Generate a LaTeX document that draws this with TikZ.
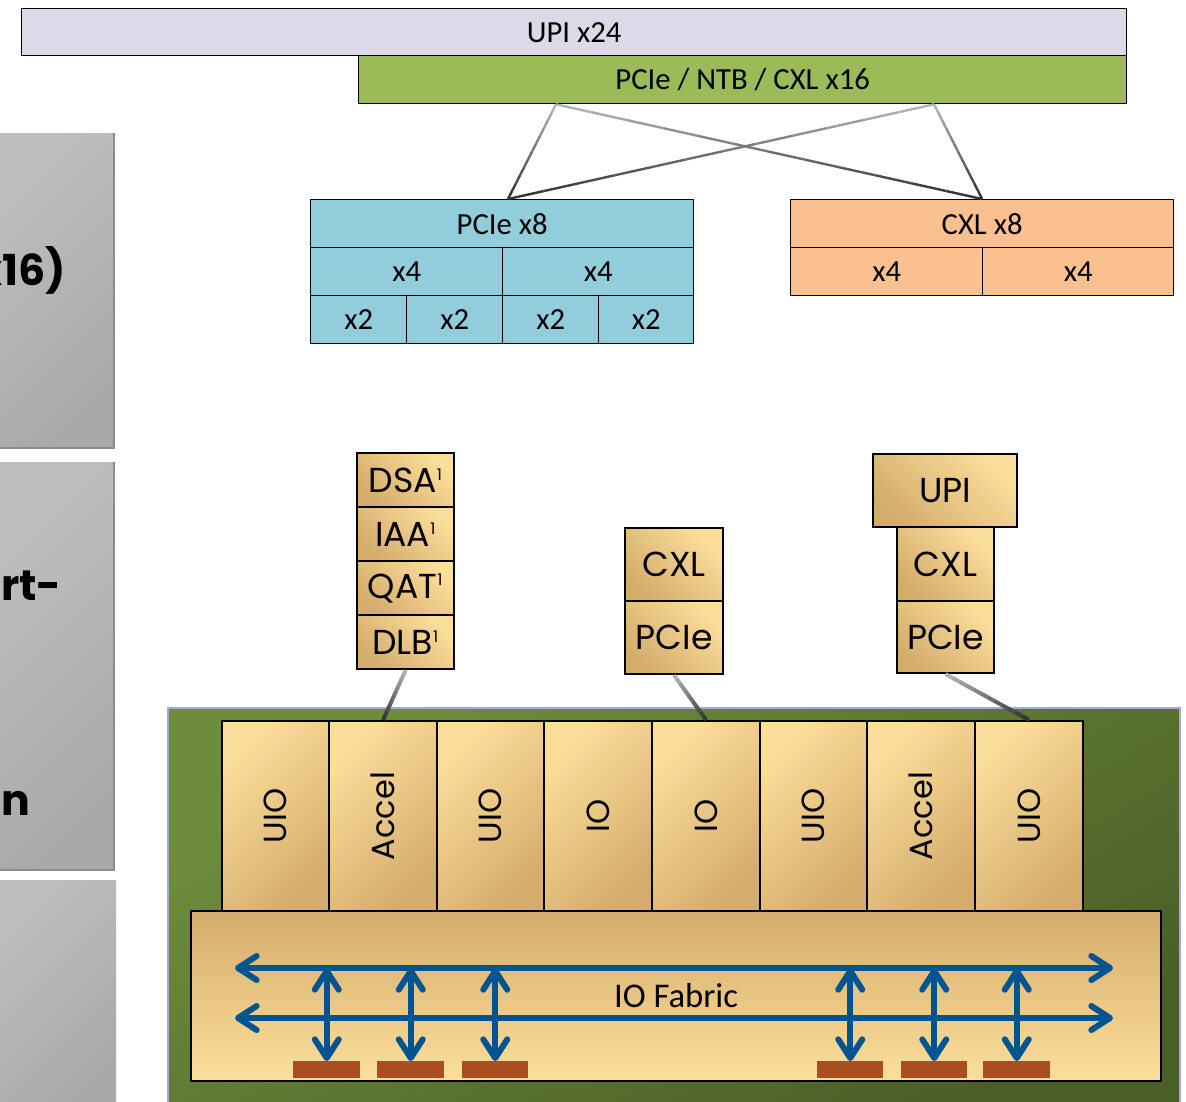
\documentclass[tikz,border=0pt]{standalone}
\usepackage{fontspec}
\usepackage{graphicx}
\setmainfont{Carlito}
\newfontfamily\geo{Poppins}
\usetikzlibrary{arrows.meta,calc}
\definecolor{upic}{HTML}{DDD9E8}
\definecolor{ntbc}{HTML}{9BBB59}
\definecolor{pciec}{HTML}{92CDDC}
\definecolor{cxlc}{HTML}{FAC090}
\definecolor{tanL}{HTML}{FCDE9B}
\definecolor{tanD}{HTML}{D4AC6C}
\definecolor{greenL}{HTML}{6E8D3C}
\definecolor{greenD}{HTML}{4B5E27}
\definecolor{fabblue}{HTML}{00548F}
\definecolor{padc}{HTML}{A84E21}
\definecolor{edgec}{HTML}{A3AAD8}
\definecolor{grayL}{HTML}{BEBEBE}
\definecolor{grayD}{HTML}{A9A9A9}
\newcommand\rb[7]{\node[#6, anchor=north west, minimum width={(#4-#2)*0.75pt}, minimum height={(#5-#3)*0.75pt}] (#1) at (#2,#3) {#7};}
\newcommand\gradline[3]{%
  \foreach \i in {0,...,11}{%
    \pgfmathtruncatemacro\gc{30+4.5*\i}%
    \draw[line width=#3, draw=black!\gc] ($(#1)!{\i/12}!(#2)$) -- ($(#1)!{(\i+1)/12}!(#2)$);
  }}
\newcommand\sone{\textsuperscript{\fontsize{12}{12}\selectfont 1}}
\tikzset{
  flat/.style={draw=black, line width=1pt, inner sep=0pt, font=\fontsize{23}{27}\selectfont},
  tanbox/.style={draw=black, line width=1.6pt, inner sep=0pt, top color=tanL, bottom color=tanD, shading angle=45, font=\geo\fontsize{24}{28}\selectfont},
  stackbox/.style={tanbox, shading angle=-45, font=\geo\fontsize{26}{30}\selectfont},
  fabric/.style={draw=black, line width=1.6pt, inner sep=0pt, top color=tanD, bottom color=tanL, shading angle=0, font=\fontsize{26}{30}\selectfont},
  pad/.style={fill=padc, draw=none, inner sep=0pt},
  barrow/.style={draw=fabblue, line width=4.5pt, {Straight Barb[length=14pt,width=18pt,round]}-{Straight Barb[length=14pt,width=18pt,round]}},
  sidetext/.style={font=\geo\bfseries\fontsize{32}{36}\selectfont, inner sep=0pt}
}
\begin{document}
\begin{tikzpicture}[x=0.75pt,y=-0.75pt]
\useasboundingbox (0,0) rectangle (1186,1101);
\begin{scope}
\clip (0,0) rectangle (1186,1101);
% left gray panels
\shade[top color=grayL, bottom color=grayD, shading angle=45] (0,133) rectangle (114,448);
\draw[black!45, line width=1pt] (114,133) -- (114,448) -- (-2,448);
\shade[top color=grayL, bottom color=grayD, shading angle=45] (0,462) rectangle (114,870);
\draw[black!45, line width=1pt] (114,462) -- (114,870) -- (-2,870);
\shade[top color=grayL, bottom color=grayD, shading angle=45] (0,880) rectangle (116,1110);
\node[sidetext, anchor=base east] (s1) at (66,285) {x16)};
\node[sidetext, anchor=base west] (s2) at (1,600) {rt-};
\node[sidetext, anchor=base west] (s3) at (1,815) {n};

% top interfaces
\rb{upi}{21}{8}{1126}{55}{flat, fill=upic}{UPI x24}
\rb{ntb}{358}{55}{1126}{103}{flat, fill=ntbc}{PCIe / NTB / CXL x16}
\rb{pcie8}{310}{199}{693}{247}{flat, fill=pciec}{PCIe x8}
\rb{pa}{310}{247}{502}{295}{flat, fill=pciec}{x4}
\rb{pb}{502}{247}{693}{295}{flat, fill=pciec}{x4}
\rb{pc}{310}{295}{406}{343}{flat, fill=pciec}{x2}
\rb{pd}{406}{295}{502}{343}{flat, fill=pciec}{x2}
\rb{pe}{502}{295}{598}{343}{flat, fill=pciec}{x2}
\rb{pf}{598}{295}{693}{343}{flat, fill=pciec}{x2}
\rb{cxl8}{790}{199}{1173}{247}{flat, fill=cxlc}{CXL x8}
\rb{ca}{790}{247}{982}{295}{flat, fill=cxlc}{x4}
\rb{cb}{982}{247}{1173}{295}{flat, fill=cxlc}{x4}

\coordinate (t1) at ($(ntb.south west)+(198,0)$);
\coordinate (t2) at ($(ntb.south west)+(576,0)$);
\coordinate (b1) at ($(pcie8.north west)+(198,0)$);
\gradline{t1}{b1}{1.8pt}
\gradline{t1}{cxl8.north}{1.8pt}
\gradline{t2}{b1}{1.8pt}
\gradline{t2}{cxl8.north}{1.8pt}

% green die
\shade[top color=greenL, bottom color=greenD, shading angle=30] (168,708) rectangle (1180,1115);
\draw[edgec, line width=1.6pt] (168,1115) -- (168,708) -- (1180,708) -- (1180,1115);

% stacks
\rb{dsa}{356}{452}{453}{506}{stackbox}{DSA\sone}
\rb{iaa}{356}{506}{453}{560}{stackbox}{IAA\sone}
\rb{qat}{356}{560}{453}{614}{stackbox}{QAT\sone}
\rb{dlb}{356}{614}{453}{668}{stackbox}{DLB\sone}
\rb{mcxl}{624}{527}{722}{600}{stackbox}{CXL}
\rb{mpcie}{624}{600}{722}{673}{stackbox}{PCIe}
\rb{rupi}{872}{453}{1016}{526}{stackbox}{UPI}
\rb{rcxl}{896}{526}{993}{600}{stackbox}{CXL}
\rb{rpcie}{896}{600}{993}{672}{stackbox}{PCIe}

% top row of die
\rb{r1}{221}{720}{328}{910}{tanbox}{\rotatebox{90}{UIO}}
\rb{r2}{328}{720}{436}{910}{tanbox}{\rotatebox{90}{Accel}}
\rb{r3}{436}{720}{543}{910}{tanbox}{\rotatebox{90}{UIO}}
\rb{r4}{543}{720}{651}{910}{tanbox}{\rotatebox{90}{IO}}
\rb{r5}{651}{720}{759}{910}{tanbox}{\rotatebox{90}{IO}}
\rb{r6}{759}{720}{866}{910}{tanbox}{\rotatebox{90}{UIO}}
\rb{r7}{866}{720}{974}{910}{tanbox}{\rotatebox{90}{Accel}}
\rb{r8}{974}{720}{1082}{910}{tanbox}{\rotatebox{90}{UIO}}

\gradline{dlb.south}{r2.north}{3pt}
\gradline{mpcie.south}{r5.north}{3pt}
\gradline{rpcie.south}{r8.north}{3pt}

% fabric
\rb{fab}{190}{910}{1160}{1080}{fabric}{IO Fabric}
\rb{p1}{293}{1061}{360}{1078}{pad}{}
\rb{p2}{377}{1061}{444}{1078}{pad}{}
\rb{p3}{462}{1061}{528}{1078}{pad}{}
\rb{p4}{817}{1061}{883}{1078}{pad}{}
\rb{p5}{901}{1061}{967}{1078}{pad}{}
\rb{p6}{983}{1061}{1050}{1078}{pad}{}

\coordinate (h1l) at (235,968);
\coordinate (h1r) at (1113,968);
\coordinate (h2l) at (235,1018);
\coordinate (h2r) at (1113,1018);
\draw[barrow] (h1l) -- (h1r);
\draw[barrow] (h2l) -- (h2r);
\foreach \k in {1,...,6}{
  \coordinate (v\k) at (p\k.north |- h1l);
  \draw[barrow] (v\k) -- (p\k.north);
}
\end{scope}
\end{tikzpicture}
\end{document}
